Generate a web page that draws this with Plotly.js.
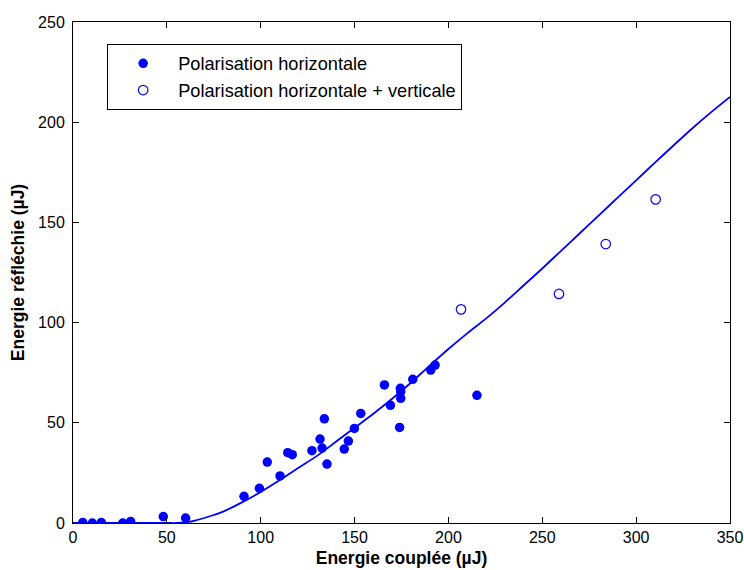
<!DOCTYPE html>
<html>
<head>
<meta charset="utf-8">
<script src="https://cdn.plot.ly/plotly-3.0.1.min.js"></script>
<style>html,body{margin:0;padding:0;background:#fff;}#chart{width:744px;height:570px;}</style>
</head>
<body>
<div id="chart"></div>
<script>
// Polarisation horizontale (filled)
var hX = [5.2, 10.3, 15.1, 26.5, 30.7, 48.1, 60.0, 91.1, 99.3, 103.5, 110.3, 114.4, 116.8, 127.3, 131.6, 132.7, 133.9, 135.3, 144.5, 146.7, 149.9, 153.3, 165.9, 169.1, 174.0, 174.4, 174.6, 174.6, 181.0, 190.6, 192.9, 215.2];
var hY = [0.2, 0.0, 0.2, 0.0, 0.8, 3.2, 2.5, 13.3, 17.3, 30.4, 23.5, 35.1, 34.1, 36.1, 41.9, 37.4, 52.0, 29.4, 36.9, 40.9, 47.2, 54.7, 68.9, 58.7, 47.7, 67.2, 65.5, 62.2, 71.7, 76.3, 78.8, 63.7];
// Polarisation horizontale + verticale (open)
var hvX = [206.7, 258.9, 283.8, 310.4];
var hvY = [106.6, 114.3, 139.2, 161.5];
// Model curve
var cX = [0, 50, 55, 60, 65, 70, 75, 80, 90, 100, 110, 120, 130, 140, 150, 160, 170, 180, 190, 200, 210, 220, 230, 240, 250, 260, 270, 280, 290, 300, 310, 320, 330, 340, 350];
var cY = [0, 0, 0, 0.3, 1.2, 2.5, 4.0, 5.7, 10.3, 15.5, 21.3, 27.5, 33.5, 40.5, 47.5, 54.5, 62, 70, 78.5, 86.8, 94.6, 102, 110, 118.5, 127, 135.8, 144.6, 153.4, 162.2, 171, 179.8, 188.5, 197, 205, 212.6];
var xTicks = [0, 50, 100, 150, 200, 250, 300, 350];
var yTicks = [0, 50, 100, 150, 200, 250];

var traces = [
  {x: cX, y: cY, mode: 'lines', line: {color: '#0000ff', width: 1.8, shape: 'spline', smoothing: 0.8}, showlegend: false, hoverinfo: 'skip'},
  {x: hX, y: hY, mode: 'markers', name: 'Polarisation horizontale',
   marker: {color: '#0000ff', size: 9.5, symbol: 'circle', line: {width: 0}}},
  {x: hvX, y: hvY, mode: 'markers', name: 'Polarisation horizontale + verticale',
   marker: {color: '#0000ff', size: 9.5, symbol: 'circle-open', line: {color: '#0000ff', width: 1.2}}}
];
var axisCommon = {
  showgrid: false, zeroline: false, showline: true, linecolor: '#000', linewidth: 1,
  mirror: 'ticks', ticks: 'inside', ticklen: 6, tickcolor: '#000', tickwidth: 1,
  tickfont: {family: 'Liberation Sans, Arial, sans-serif', size: 16, color: '#000'}
};
var layout = {
  width: 744, height: 570,
  margin: {l: 73, r: 14, t: 22, b: 47},
  paper_bgcolor: '#fff', plot_bgcolor: '#fff',
  font: {family: 'Liberation Sans, Arial, sans-serif', color: '#000'},
  xaxis: Object.assign({}, axisCommon, {range: [0, 350], tickvals: xTicks, ticktext: xTicks.map(String),
    title: {text: '<b>Energie couplée (µJ)</b>', font: {size: 17.5}, standoff: 6}}),
  yaxis: Object.assign({}, axisCommon, {range: [0, 250], tickvals: yTicks, ticktext: yTicks.map(String),
    ticklabelstandoff: 4,
    title: {text: '<b>Energie réfléchie (µJ)</b>', font: {size: 17.5}, standoff: 8}}),
  legend: {x: 0.052, y: 0.956, xanchor: 'left', yanchor: 'top', bordercolor: '#000', borderwidth: 1,
    bgcolor: '#fff', font: {size: 18.2, color: '#000'}, itemwidth: 60, tracegroupgap: 0},
  showlegend: true
};
Plotly.newPlot('chart', traces, layout, {staticPlot: true, displayModeBar: false});
</script>
</body>
</html>
